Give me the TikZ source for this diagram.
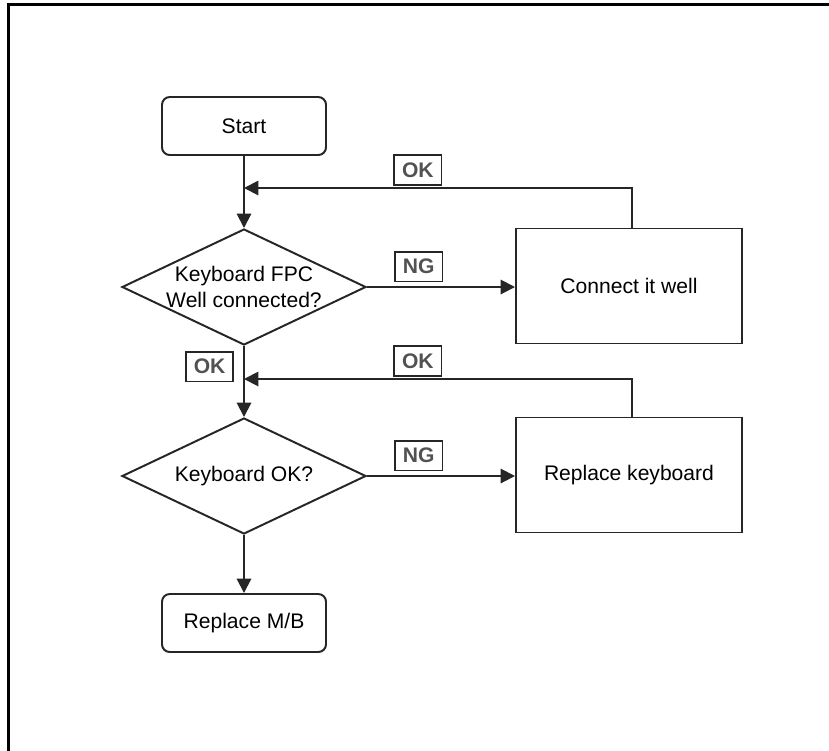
\documentclass[tikz,border=0pt]{standalone}
\usepackage{fontspec}
\setmainfont{Liberation Sans}
\usetikzlibrary{positioning,arrows.meta,shapes.geometric}

\begin{document}
\begin{tikzpicture}[
    font=\fontsize{15}{18}\selectfont,
    line width=1.4pt,
    terminal/.style={
      draw=black!85,
      rounded corners=5.5pt,
      align=center,
      minimum width=41mm,
      minimum height=14.5mm
    },
    decision/.style={
      diamond, draw=black!85, aspect=2.1, inner sep=0pt,
      align=center,
      minimum width=61mm,
      minimum height=29mm
    },
    process/.style={
      draw=black!85,
      align=center,
      minimum width=56.5mm,
      minimum height=28.75mm
    },
    flow/.style={-{Triangle[length=3.6mm,width=3.6mm]}, draw=black!85},
    tag/.style={
      draw=black!85, line width=1.1pt, text=black!68,
      font=\fontsize{15}{17}\selectfont\bfseries,
      minimum width=11.8mm, minimum height=7.4mm, inner sep=1pt
    }
  ]
    \useasboundingbox (0,0) rectangle (20.725,-18.75);
    % outer frame, only top and left edges show
    \draw[line width=2.1pt] (0.21,-19) -- (0.21,-0.11) -- (21,-0.11);

    \node[terminal] (start) at (6.1,-3.15) {Start};

    \node[decision] (fpc) at (6.1,-7.175) {
      Keyboard FPC\\
      Well connected?
    };

    \node[process] (fixfpc) at (15.725,-7.15) {Connect it well};

    \node[decision] (kb) at (6.1,-11.9) {Keyboard OK?};

    \node[process] (newkb) at (15.725,-11.875) {Replace keyboard};

    \node[terminal] (mb) at (6.1,-15.575) {Replace M/B};

    \coordinate (join1) at (6.1,-4.7);
    \coordinate (join2) at (6.1,-9.475);

    \draw[flow] (start) -- (fpc);
    \draw[flow] (fpc) -- node[pos=.29, left=2.5mm, tag] {OK} (kb);
    \draw[flow] (kb) -- (mb);
    \draw[flow] (fpc.east) -- node[pos=.35, above=1.2mm, tag] {NG} (fpc.east -| fixfpc.west);
    \draw[flow] (kb.east) -- node[pos=.35, above=1.2mm, tag] {NG} (kb.east -| newkb.west);
    \draw[flow] ([xshift=.75mm]fixfpc.north) |- node[pos=.776, above=.6mm, tag] {OK} (join1);
    \draw[flow] ([xshift=.75mm]newkb.north) |- node[pos=.776, above=.6mm, tag] {OK} (join2);
  \end{tikzpicture}
\end{document}
